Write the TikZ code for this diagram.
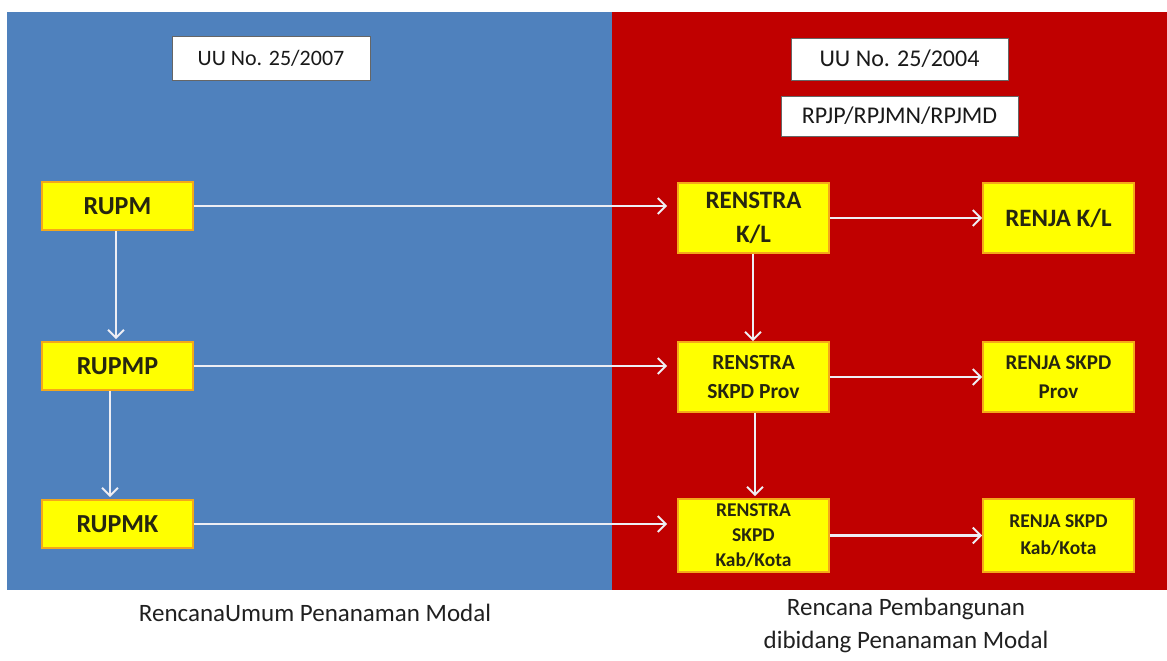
\documentclass[tikz,border=0pt]{standalone}
\usepackage{fontspec}
\setmainfont{Carlito}
\usetikzlibrary{arrows.meta}
\definecolor{pblue}{HTML}{4F81BD}
\definecolor{pred}{HTML}{C00000}
\definecolor{byellow}{HTML}{FFFF00}
\definecolor{borange}{HTML}{F4A81A}
\definecolor{btext}{HTML}{262610}
\definecolor{arrw}{HTML}{EEEEF4}
\definecolor{captext}{HTML}{202020}
\tikzset{
  tagbox/.style={draw=black!60, line width=0.8pt, fill=white, inner sep=0pt, text=black!90, font=\fontsize{23}{26}\selectfont},
  ybox/.style={draw=borange, line width=1.6pt, fill=byellow, inner sep=0pt, minimum width=151pt, text=btext, font=\bfseries\fontsize{25}{34}\selectfont, align=center},
  conn/.style={draw=arrw, line width=2.2pt, -{Straight Barb[length=8pt, width=16pt, line width=2pt]}},
  captxt/.style={text=captext, font=\fontsize{25}{33}\selectfont, align=center, inner sep=0pt}
}
\begin{document}
\begin{tikzpicture}[x=1pt,y=-1pt]
\useasboundingbox (0,0) rectangle (1167,661);
\fill[white] (0,0) rectangle (1167,661);
\fill[pblue] (7,12) rectangle (612,590);
\fill[pred] (612,12) rectangle (1167,590);

\node[tagbox, minimum width=198pt, minimum height=44pt, font=\fontsize{22}{26}\selectfont] (t1) at (271,58) {UU No. 25/2007};
\node[tagbox, minimum width=217pt, minimum height=42pt, font=\fontsize{24}{26}\selectfont] (t2) at (899.5,59) {UU No. 25/2004};
\node[tagbox, minimum width=237pt, minimum height=40pt, font=\fontsize{24}{26}\selectfont] (t3) at (899.5,116) {RPJP/RPJMN/RPJMD};

\node[ybox, minimum height=48pt, font=\bfseries\fontsize{26}{30}\selectfont] (rupm) at (117.5,206) {RUPM};
\node[ybox, minimum height=48pt, font=\bfseries\fontsize{26}{30}\selectfont] (rupmp) at (117.5,366) {RUPMP};
\node[ybox, minimum height=48pt, font=\bfseries\fontsize{26}{30}\selectfont] (rupmk) at (117.5,524) {RUPMK};

\node[ybox, minimum height=70pt] (rk) at (753.5,218) {RENSTRA\\K/L};
\node[ybox, minimum height=70pt] (jk) at (1058.5,218) {RENJA K/L};
\node[ybox, minimum height=70pt, font=\bfseries\fontsize{21.5}{29}\selectfont] (rp) at (753.5,377) {RENSTRA\\SKPD Prov};
\node[ybox, minimum height=70pt, font=\bfseries\fontsize{21}{29}\selectfont] (jp) at (1058.5,377) {RENJA SKPD\\Prov};
\node[ybox, minimum height=73pt, font=\bfseries\fontsize{19.5}{25}\selectfont] (rkk) at (753.5,535.5) {RENSTRA\\SKPD\\Kab/Kota};
\node[ybox, minimum height=73pt, font=\bfseries\fontsize{19.5}{27}\selectfont] (jkk) at (1058.5,535.5) {RENJA SKPD\\Kab/Kota};

\draw[conn, shorten >=10pt] (rupm.east) -- (rupm.east -| rk.west);
\draw[conn, shorten >=10pt] (rupmp.east) -- (rupmp.east -| rp.west);
\draw[conn, shorten >=10pt] (rupmk.east) -- (rupmk.east -| rkk.west);
\draw[conn] (rk.east) -- (jk.west);
\draw[conn] (rp.east) -- (jp.west);
\draw[conn] (rkk.east) -- (jkk.west);

\draw[conn, shorten >=2pt] ([xshift=-1.5pt]rupm.south) -- ([xshift=-1.5pt]rupmp.north);
\draw[conn, shorten >=2pt] ([xshift=-7.5pt]rupmp.south) -- ([xshift=-7.5pt]rupmk.north);
\draw[conn] ([xshift=-0.5pt]rk.south) -- ([xshift=-0.5pt]rp.north);
\draw[conn, shorten >=2pt] ([xshift=1.5pt]rp.south) -- ([xshift=1.5pt]rkk.north);

\node[captxt] (c1) at (315,613) {RencanaUmum Penanaman Modal};
\node[captxt, anchor=north] (c2) at (906,598) {Rencana Pembangunan\\dibidang Penanaman Modal};
\end{tikzpicture}
\end{document}
